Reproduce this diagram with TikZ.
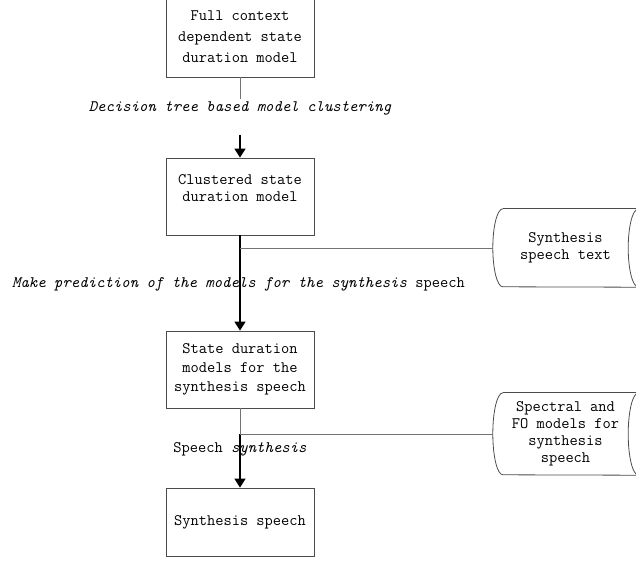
\documentclass[tikz,border=0pt]{standalone}
\usepackage{fontspec}
\setmainfont{Latin Modern Mono}
\usetikzlibrary{arrows.meta}

\begin{document}
\begin{tikzpicture}[
    x=1pt, y=-1pt,
    every node/.style={font=\fontsize{16}{19}\selectfont},
    procbox/.style={draw=black!70, line width=0.8pt, minimum width=148pt, inner sep=0pt, align=center},
    storenode/.style={minimum width=145pt, inner sep=0pt, align=center, font=\fontsize{16}{17}\selectfont},
    storeline/.style={draw=black!70, line width=0.8pt},
    flowlabel/.style={inner sep=0pt, text height=11pt, text depth=3pt},
    thinlink/.style={draw=black!55, line width=0.9pt},
    mainarrow/.style={draw=black, line width=1.5pt, -{Triangle[width=11pt,length=9pt]}}
]
    \useasboundingbox (0,0) rectangle (636,569);

    % Process boxes down the middle column
    \node[procbox, minimum height=80pt, font=\fontsize{16}{21}\selectfont] (fullmodel) at (240,37) {Full context\\dependent state\\duration model};
    \node[procbox, minimum height=77pt, font=\fontsize{16}{17}\selectfont] (clustered) at (240,196.5)
        {\begin{tabular}{@{}c@{}}Clustered state\\duration model\\[13pt]\end{tabular}};
    \node[procbox, minimum height=77pt] (predicted) at (240,369.5) {State duration\\models for the\\synthesis speech};
    \node[procbox, minimum height=68pt] (synth) at (240,522) {Synthesis speech};

    % Stored data on the right
    \node[storenode, minimum height=78pt] (textstore) at (565.5,248) {Synthesis\\speech text};
    \node[storenode, minimum height=82pt] (modelstore) at (565.5,434) {Spectral and\\FO models for\\synthesis\\speech};

    % Outlines of the stored data
    \draw[storeline] ([xshift=10pt]textstore.north west) arc[start angle=90, end angle=270, x radius=10pt, y radius=39pt] -- (textstore.south east);
    \draw[storeline] ([xshift=10pt]textstore.north west) -- (textstore.north east);
    \draw[storeline] (textstore.east) ellipse [x radius=10pt, y radius=39pt];
    \draw[storeline] ([xshift=10pt]modelstore.north west) arc[start angle=90, end angle=270, x radius=10pt, y radius=41pt] -- (modelstore.south east);
    \draw[storeline] ([xshift=10pt]modelstore.north west) -- (modelstore.north east);
    \draw[storeline] (modelstore.east) ellipse [x radius=10pt, y radius=41pt];

    % Step labels
    \node[flowlabel] (clusterlabel) at (240,108) {\itshape Decision tree based model clustering};
    \node[flowlabel] (predictlabel) at (238.5,283) {\itshape Make prediction of the models for the synthesis \upshape speech};
    \node[flowlabel] (synthlabel) at (240,448) {Speech \textit{synthesis}};

    % Break points and junctions
    \coordinate (cut1) at (240,99);
    \coordinate (cut2) at (240,135);
    \coordinate (j1) at (240,248);
    \coordinate (j2) at (240,434);

    % Connectors
    \draw[thinlink] (fullmodel) -- (cut1);
    \draw[mainarrow] (cut2) -- (clustered);
    \draw[mainarrow] (clustered) -- (predicted);
    \draw[thinlink] (textstore) -- (j1);
    \draw[thinlink] (predicted) -- (j2);
    \draw[mainarrow] (j2) -- (synth);
    \draw[thinlink] (modelstore) -- (j2);
\end{tikzpicture}
\end{document}
